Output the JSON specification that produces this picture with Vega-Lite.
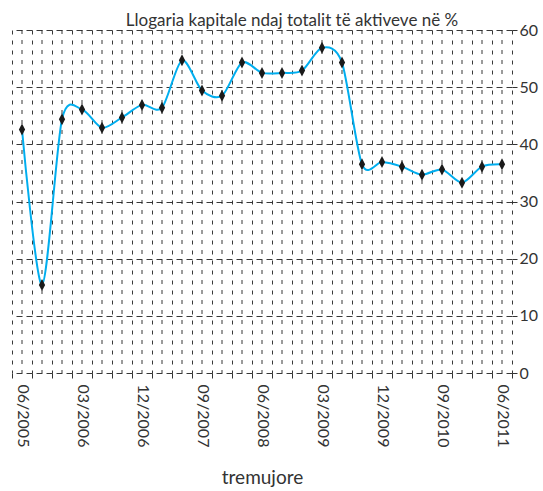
{
  "$schema": "https://vega.github.io/schema/vega-lite/v6.json",
  "width": 500,
  "height": 343,
  "padding": {"left": 4, "top": 12, "right": 2, "bottom": 0},
  "background": "white",
  "title": {
    "text": "Llogaria kapitale ndaj totalit të aktiveve në %",
    "font": "Lato",
    "fontSize": 17,
    "fontWeight": "normal",
    "color": "#333333",
    "anchor": "middle",
    "dx": 30,
    "offset": -8
  },
  "config": {
    "view": {"stroke": null},
    "axis": {"labelFont": "Lato", "titleFont": "Lato"}
  },
  "data": {
    "values": [
      {"q": "06/2005", "v": 42.6},
      {"q": "09/2005", "v": 15.4},
      {"q": "12/2005", "v": 44.4},
      {"q": "03/2006", "v": 46.1},
      {"q": "06/2006", "v": 42.9},
      {"q": "09/2006", "v": 44.7},
      {"q": "12/2006", "v": 46.9},
      {"q": "03/2007", "v": 46.4},
      {"q": "06/2007", "v": 54.7},
      {"q": "09/2007", "v": 49.4},
      {"q": "12/2007", "v": 48.5},
      {"q": "03/2008", "v": 54.3},
      {"q": "06/2008", "v": 52.5},
      {"q": "09/2008", "v": 52.5},
      {"q": "12/2008", "v": 52.9},
      {"q": "03/2009", "v": 56.9},
      {"q": "06/2009", "v": 54.3},
      {"q": "09/2009", "v": 36.5},
      {"q": "12/2009", "v": 36.9},
      {"q": "03/2010", "v": 36.1},
      {"q": "06/2010", "v": 34.7},
      {"q": "09/2010", "v": 35.6},
      {"q": "12/2010", "v": 33.3},
      {"q": "03/2011", "v": 36.1},
      {"q": "06/2011", "v": 36.5}
    ]
  },
  "encoding": {
    "x": {
      "field": "q",
      "type": "ordinal",
      "sort": null,
      "scale": {"type": "band", "paddingInner": 0, "paddingOuter": 0},
      "axis": {
        "title": "tremujore",
        "titleFontSize": 19,
        "titleFontWeight": "normal",
        "titleColor": "#333333",
        "titlePadding": 22,
        "labelAngle": 90,
        "labelFontSize": 16,
        "labelColor": "#333333",
        "labelPadding": 6,
        "labelExpr": "indexof(domain('x'), datum.value) % 3 == 0 ? datum.label : ''",
        "labelOverlap": false,
        "tickBand": "extent",
        "ticks": true,
        "tickSize": 5,
        "tickColor": "#333333",
        "domain": false,
        "grid": true,
        "gridDash": [4, 6],
        "gridColor": "#222222",
        "gridOpacity": 0.9,
        "gridWidth": 1
      }
    }
  },
  "layer": [
    {
      "mark": {"type": "rule", "color": "#222222", "strokeDash": [4, 6], "opacity": 0.9, "strokeWidth": 1},
      "encoding": {}
    },
    {
      "mark": {"type": "line", "color": "#00aeef", "strokeWidth": 2, "interpolate": "cardinal", "tension": 0.15},
      "encoding": {
        "y": {
          "field": "v",
          "type": "quantitative",
          "scale": {"domain": [0, 60], "nice": false, "zero": false},
          "axis": {
            "orient": "right",
            "title": null,
            "values": [0, 10, 20, 30, 40, 50, 60],
            "labelFontSize": 16,
            "labelColor": "#333333",
            "labelPadding": 2,
            "tickSize": 5,
            "tickColor": "#333333",
            "domain": false,
            "grid": true,
            "gridDash": [6, 4],
            "gridColor": "#222222",
            "gridOpacity": 0.9
          }
        }
      }
    },
    {
      "mark": {"type": "point", "shape": "M0,-1L0.52,0L0,1L-0.52,0Z", "size": 144, "filled": true, "color": "#1a1a1a", "opacity": 1},
      "encoding": {
        "y": {"field": "v", "type": "quantitative"}
      }
    }
  ]
}
